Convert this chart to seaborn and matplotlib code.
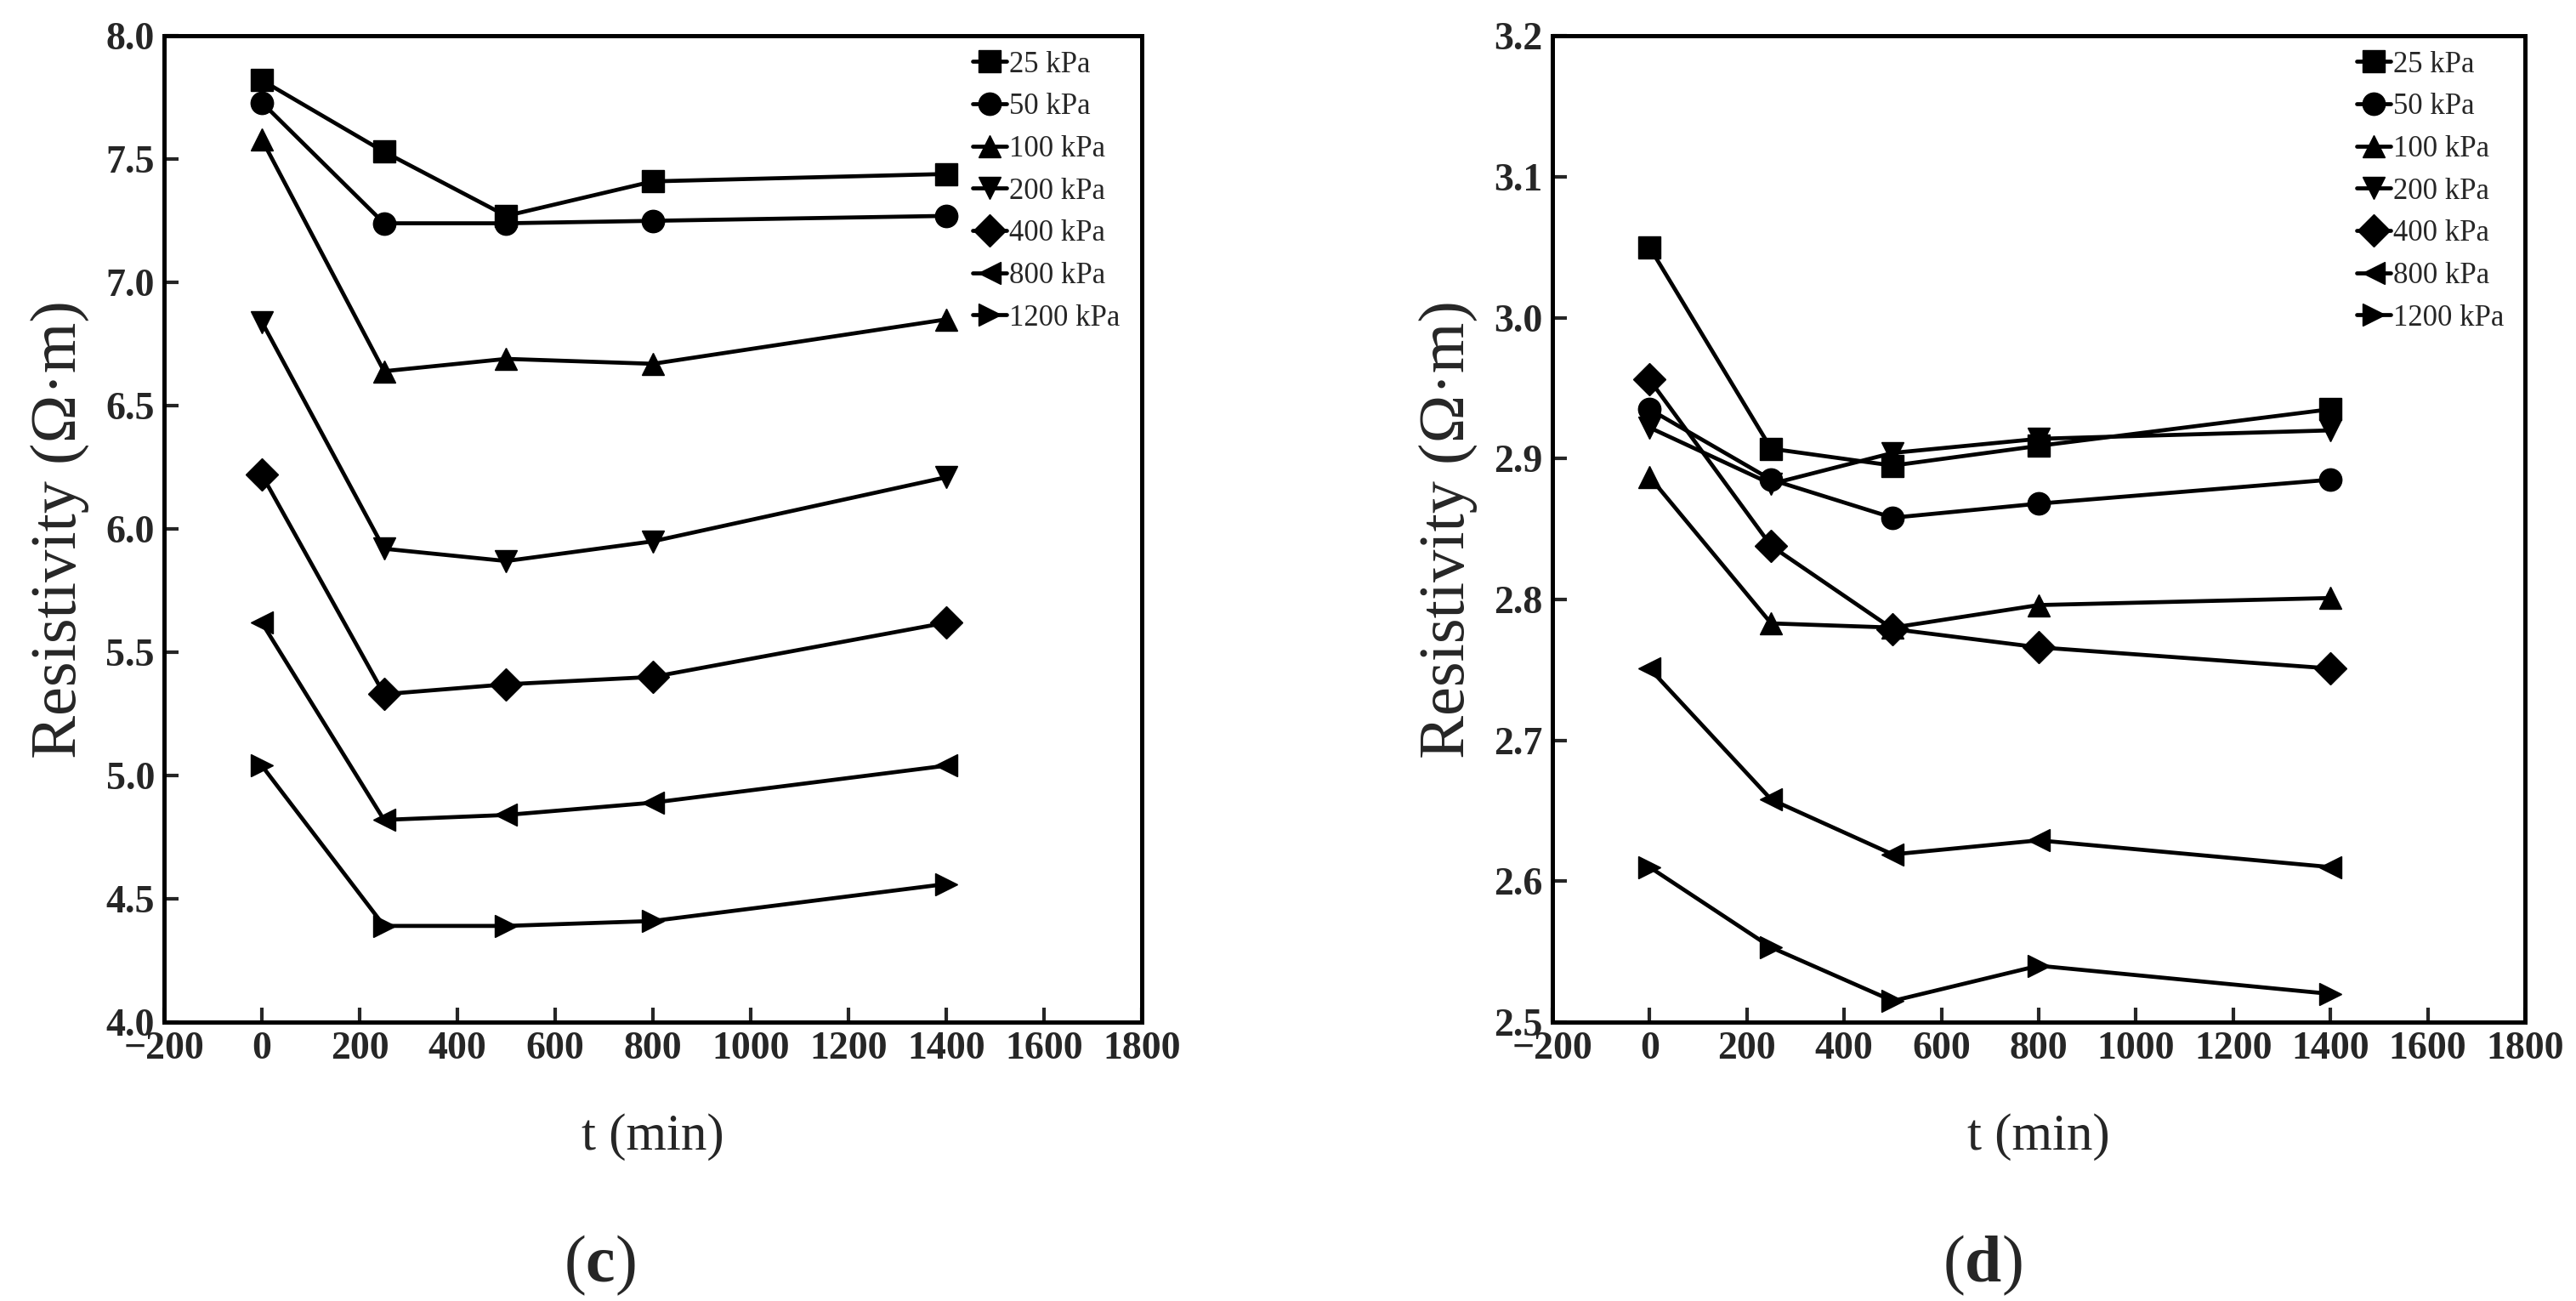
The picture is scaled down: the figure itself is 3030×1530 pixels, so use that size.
import matplotlib
matplotlib.use('Agg')
import matplotlib.pyplot as plt
import seaborn as sns
import pandas as pd
import numpy as np

times = [0, 250, 500, 800, 1400]
pressures = ['25 kPa', '50 kPa', '100 kPa', '200 kPa', '400 kPa', '800 kPa', '1200 kPa']
marker_list = ['s', 'o', '^', 'v', 'D', '<', '>']

# panel (c)
c_25 = [7.82, 7.53, 7.27, 7.41, 7.44]
c_50 = [7.73, 7.24, 7.24, 7.25, 7.27]
c_100 = [7.58, 6.64, 6.69, 6.67, 6.85]
c_200 = [6.84, 5.92, 5.87, 5.95, 6.21]
c_400 = [6.22, 5.33, 5.37, 5.40, 5.62]
c_800 = [5.62, 4.82, 4.84, 4.89, 5.04]
c_1200 = [5.04, 4.39, 4.39, 4.41, 4.56]

# panel (d)
d_25 = [3.050, 2.907, 2.895, 2.909, 2.935]
d_50 = [2.935, 2.885, 2.858, 2.868, 2.885]
d_100 = [2.887, 2.783, 2.780, 2.796, 2.801]
d_200 = [2.922, 2.882, 2.904, 2.914, 2.920]
d_400 = [2.956, 2.838, 2.779, 2.766, 2.751]
d_800 = [2.751, 2.658, 2.619, 2.629, 2.610]
d_1200 = [2.610, 2.553, 2.515, 2.540, 2.520]

c_series = [c_25, c_50, c_100, c_200, c_400, c_800, c_1200]
d_series = [d_25, d_50, d_100, d_200, d_400, d_800, d_1200]

x_ticks = list(range(-200, 1801, 200))
c_yticks = [4.0, 4.5, 5.0, 5.5, 6.0, 6.5, 7.0, 7.5, 8.0]
d_yticks = [2.5, 2.6, 2.7, 2.8, 2.9, 3.0, 3.1, 3.2]


def to_long(series):
    rows = []
    for name, vals in zip(pressures, series):
        for t, v in zip(times, vals):
            rows.append({'t': t, 'rho': v, 'pressure': name})
    return pd.DataFrame(rows)


sns.set_style('ticks')
plt.rcParams['font.family'] = ['Liberation Serif', 'DejaVu Serif']
plt.rcParams['mathtext.fontset'] = 'custom'
plt.rcParams['mathtext.rm'] = 'Liberation Serif'
plt.rcParams['mathtext.bf'] = 'Liberation Serif:bold'

fig = plt.figure(figsize=(30.3, 15.3), dpi=100)
ax_c = fig.add_axes([0.0637, 0.2144, 0.3795, 0.758])
ax_d = fig.add_axes([0.6026, 0.2144, 0.3776, 0.758])


def draw_panel(ax, series, yticks, letter, label_x):
    df = to_long(series)
    sns.lineplot(data=df, x='t', y='rho', style='pressure', style_order=pressures,
                 markers=marker_list, dashes=False, color='black', ax=ax,
                 linewidth=3.4, markersize=19, markeredgecolor='black',
                 markeredgewidth=1)
    leg = ax.get_legend()
    handles = leg.legend_handles
    labels = [t.get_text() for t in leg.get_texts()]
    for h in handles:
        h.set_color('black')
        h.set_linewidth(3.4)
        h.set_markersize(19)
        h.set_markeredgecolor('black')
        h.set_markerfacecolor('black')
    ax.legend(handles, labels, loc='upper left', bbox_to_anchor=(0.827, 0.985),
              frameon=False, fontsize=25, handlelength=1.15, handletextpad=0.1,
              labelspacing=0.48, borderpad=0, borderaxespad=0)

    ax.set_xlim(-200, 1800)
    ax.set_ylim(yticks[0], yticks[-1])
    ax.set_xticks(x_ticks)
    ax.set_yticks(yticks)
    ax.set_yticklabels([f'{v:.1f}' for v in yticks])
    ax.tick_params(direction='in', length=12, width=3, labelsize=33, pad=8)
    for tl in ax.get_xticklabels() + ax.get_yticklabels():
        tl.set_fontweight('bold')
    for sp in ax.spines.values():
        sp.set_linewidth(3.6)
        sp.set_color('black')
    ax.set_xlabel('t (min)', fontsize=44, labelpad=39)
    ax.set_ylabel('Resistivity (Ω·m)', fontsize=55, labelpad=14)
    fig.text(label_x, 0.027, '($\\mathbf{' + letter + '}$)', fontsize=56,
             ha='center', va='center')


draw_panel(ax_c, c_series, c_yticks, 'c', 0.2327)
draw_panel(ax_d, d_series, d_yticks, 'd', 0.7697)

fig.savefig('out.png', dpi=100)
